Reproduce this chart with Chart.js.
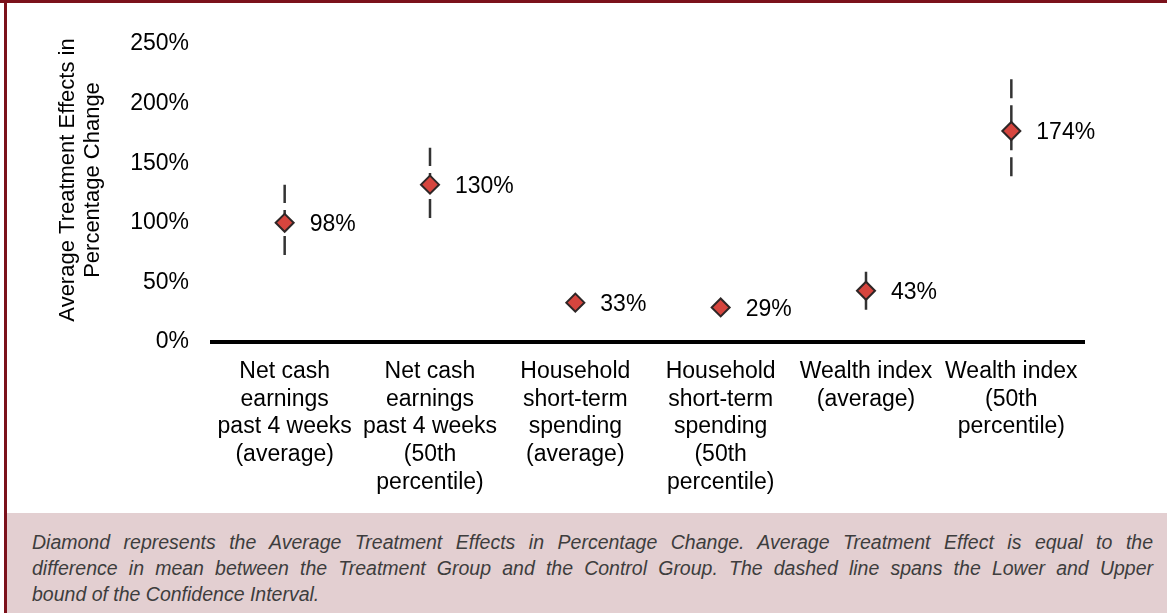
<!DOCTYPE html>
<html>
<head>
<meta charset="utf-8">
<script src="https://cdn.jsdelivr.net/npm/chart.js@4.4.1/dist/chart.umd.min.js"></script>
<style>
  html, body { margin: 0; padding: 0; background: #fff; }
  #topbar { height: 3px; background: #7b111b; }
  #frame { margin-left: 4px; border-left: 3px solid #7b111b; width: 1160px; }
  #chartBox { position: relative; width: 1160px; height: 510px; }
  #note {
    height: 100px; box-sizing: border-box; background: #e3cfd1;
    padding: 16px 14px 0 25px;
    font: italic 19.5px/26px "Liberation Sans", Arial, sans-serif;
    color: #3d3d3d;
  }
  #note .ln { text-align: justify; text-align-last: justify; white-space: nowrap; }
  #note .ln.last { text-align-last: left; }
</style>
</head>
<body>
<div id="topbar"></div>
<div id="frame">
  <div id="chartBox"><canvas id="myChart" width="1160" height="510"></canvas></div>
  <div id="note">
    <div class="ln">Diamond represents the Average Treatment Effects in Percentage Change. Average Treatment Effect is equal to the</div>
    <div class="ln">difference in mean between the Treatment Group and the Control Group. The dashed line spans the Lower and Upper</div>
    <div class="ln last">bound of the Confidence Interval.</div>
  </div>
</div>
<script>
// categories (multi-line labels)
const categories = [
  ['Net cash', 'earnings', 'past 4 weeks', '(average)'],
  ['Net cash', 'earnings', 'past 4 weeks', '(50th', 'percentile)'],
  ['Household', 'short-term', 'spending', '(average)'],
  ['Household', 'short-term', 'spending', '(50th', 'percentile)'],
  ['Wealth index', '(average)'],
  ['Wealth index', '(50th', 'percentile)'],
];
// treatment effect (%), as placed on the chart
const effects = [100, 132, 33, 29, 43, 177];
// printed labels next to the diamonds
const effectLabels = ['98%', '130%', '33%', '29%', '43%', '174%'];
// confidence interval bounds (%), null = none shown
const ciLower = [73, 104, null, null, 27, 139];
const ciUpper = [132, 163, null, null, 59, 222];
// y ticks
const yTicks = [0, 50, 100, 150, 200, 250];
const yTitle = ['Average Treatment Effects in', 'Percentage Change'];

const FONT_FAMILY = '"Liberation Sans", Arial, Helvetica, sans-serif';
const FONT_SIZE = 23;

const ctx = document.getElementById('myChart').getContext('2d');

// 信頼区間の破線（数値のx軸を使う）
const ciDatasets = [];
categories.forEach((c, i) => {
  if (ciLower[i] == null) return;
  ciDatasets.push({
    xAxisID: 'xCI',
    data: [{ x: i, y: ciLower[i] }, { x: i, y: ciUpper[i] }],
    showLine: true,
    borderColor: '#333333',
    borderWidth: 2.5,
    borderDash: [19, 7],
    borderCapStyle: 'butt',
    pointRadius: 0,
  });
});

// 値ラベル
const valueLabels = {
  id: 'valueLabels',
  afterDatasetsDraw(chart) {
    const c = chart.ctx;
    const meta = chart.getDatasetMeta(0);
    c.save();
    c.font = FONT_SIZE + 'px ' + FONT_FAMILY;
    c.fillStyle = '#000';
    c.textAlign = 'left';
    c.textBaseline = 'middle';
    meta.data.forEach((pt, i) => {
      c.fillText(effectLabels[i], pt.x + 25, pt.y + 2);
    });
    c.restore();
  },
};

// y軸タイトル
const yTitlePlugin = {
  id: 'yTitle',
  afterDraw(chart) {
    const c = chart.ctx;
    c.save();
    c.translate(73.5, 177);
    c.rotate(-Math.PI / 2);
    c.font = '22px ' + FONT_FAMILY;
    c.fillStyle = '#000';
    c.textAlign = 'center';
    c.textBaseline = 'middle';
    yTitle.forEach((line, i) => c.fillText(line, 0, (i - 0.5) * 24.5));
    c.restore();
  },
};

new Chart(ctx, {
  type: 'line',
  data: {
    labels: categories,
    datasets: [
      {
        data: effects,
        showLine: false,
        pointStyle: 'rectRot',
        pointRadius: 9,
        pointHoverRadius: 9,
        pointBackgroundColor: '#d6453e',
        pointBorderColor: '#2e2626',
        pointBorderWidth: 2,
      },
      ...ciDatasets,
    ],
  },
  options: {
    responsive: false,
    animation: false,
    layout: { padding: { top: 41, right: 83, left: 0, bottom: 0 } },
    plugins: { legend: { display: false }, tooltip: { enabled: false } },
    scales: {
      x: {
        type: 'category',
        offset: true,
        grid: { display: false, drawTicks: false },
        border: { display: true, color: '#000', width: 4 },
        ticks: {
          color: '#000',
          padding: 16,
          maxRotation: 0,
          autoSkip: false,
          font: { family: FONT_FAMILY, size: FONT_SIZE, lineHeight: 1.2 },
        },
        afterFit: (s) => { s.height = 171; },
      },
      xCI: {
        type: 'linear',
        position: 'bottom',
        display: false,
        min: -0.5,
        max: categories.length - 0.5,
      },
      y: {
        min: 0,
        max: 250,
        afterBuildTicks: (s) => { s.ticks = yTicks.map((v) => ({ value: v })); },
        grid: { display: false, drawTicks: false },
        border: { display: false },
        ticks: {
          color: '#000',
          padding: 23,
          font: { family: FONT_FAMILY, size: FONT_SIZE },
          callback: (v) => v + '%',
        },
        afterFit: (s) => { s.width = 205; },
      },
    },
  },
  plugins: [valueLabels, yTitlePlugin],
});
</script>
</body>
</html>
